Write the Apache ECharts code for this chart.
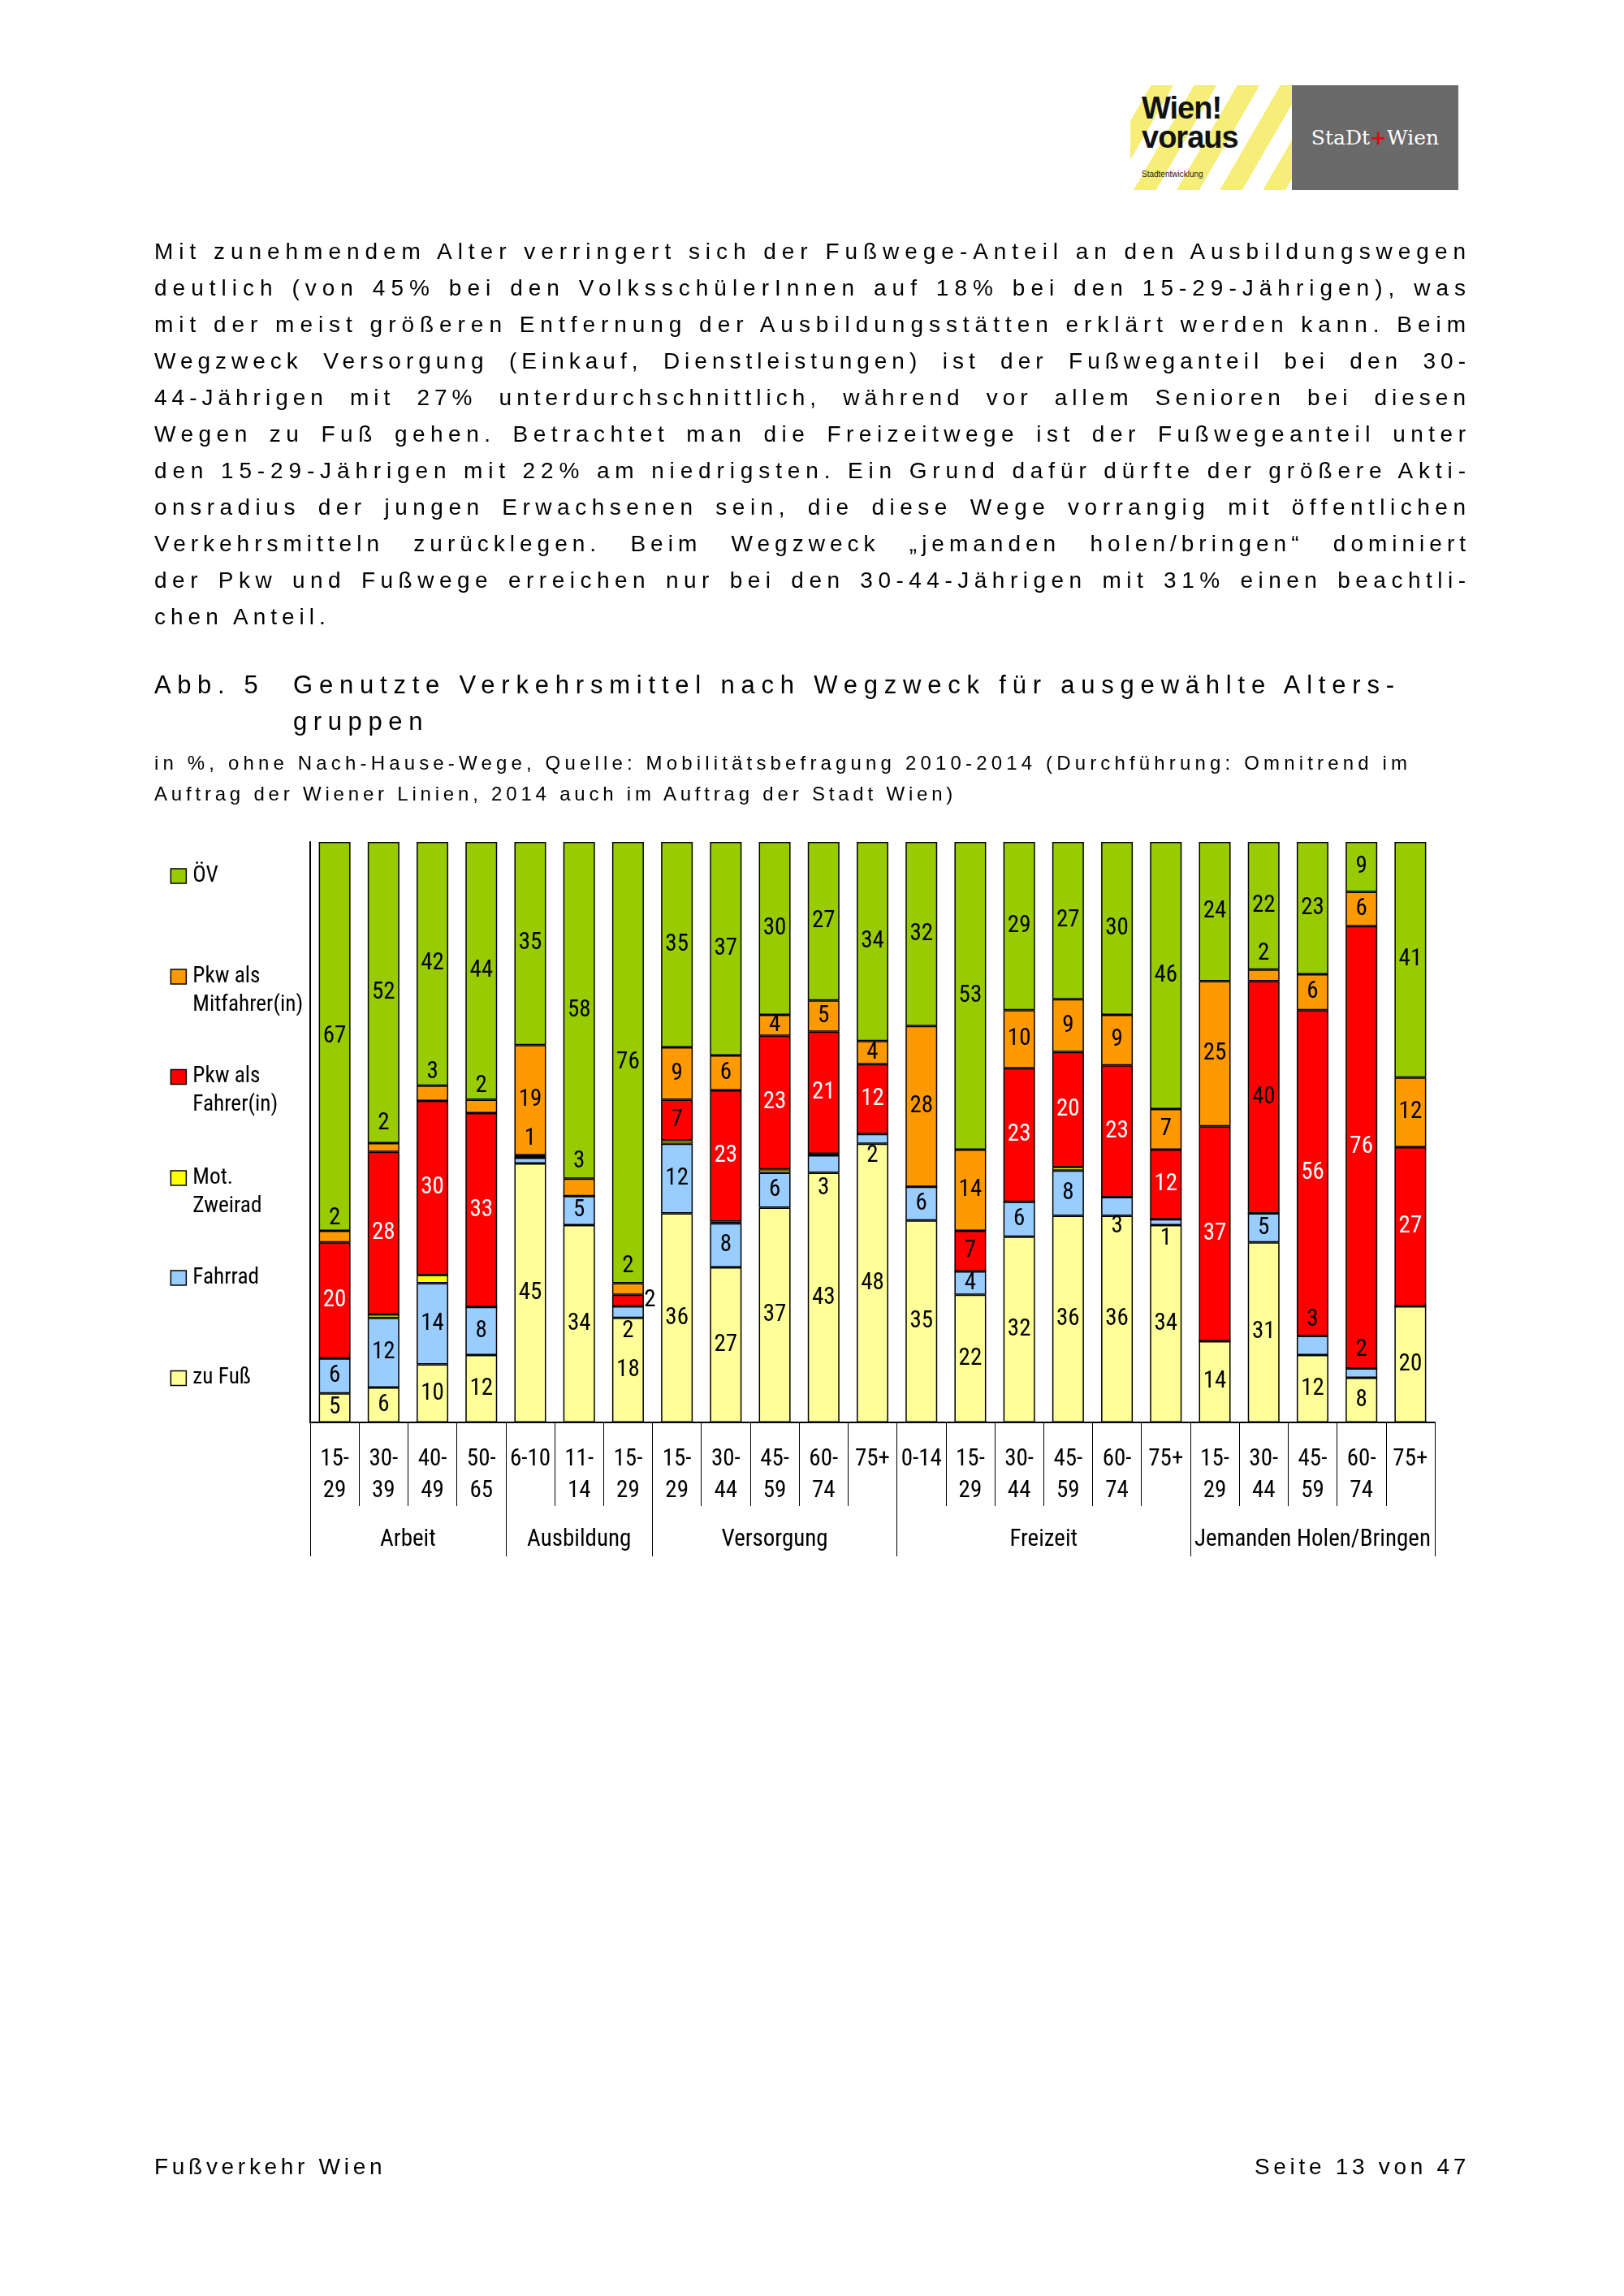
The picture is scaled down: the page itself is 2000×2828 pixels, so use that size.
<!DOCTYPE html>
<html>
<head>
<meta charset="utf-8">
<script src="https://cdn.jsdelivr.net/npm/echarts@6/dist/echarts.min.js"></script>
<style>
html,body{margin:0;padding:0;background:#fff;}
#page{position:relative;width:2000px;height:2828px;overflow:hidden;font-family:"Liberation Sans",Arial,sans-serif;color:#000;}
#chart{position:absolute;left:0;top:0;width:2000px;height:2828px;}
.blk{position:absolute;}
.row{display:block;white-space:nowrap;}
.row span{display:inline-block;white-space:nowrap;}
</style>
</head>
<body>
<div id="page">
  <div id="chart"></div>

  <!-- logo -->
  <div class="blk" style="left:1392px;top:105px;width:404px;height:129px;">
    <div style="position:absolute;left:0;top:0;width:199px;height:129px;background:repeating-linear-gradient(120deg,#ffffff 0px,#ffffff 22px,#f6ee78 22px,#f6ee78 46px);"></div>
    <div style="position:absolute;left:14px;top:10px;font:bold 38px/36px 'Liberation Sans',Arial,sans-serif;letter-spacing:-1px;color:#111;">Wien!<br>voraus</div>
    <div style="position:absolute;left:14px;top:104px;font:10px 'Liberation Sans',Arial,sans-serif;color:#222;">Stadtentwicklung</div>
    <div style="position:absolute;left:199px;top:0;width:205px;height:129px;background:#6a6a6a;color:#fff;font:25px/129px 'DejaVu Serif',serif;text-align:center;white-space:nowrap;">StaDt<span style="color:#e30613;font-weight:bold;">+</span>Wien</div>
  </div>

  <!-- body text (data-ls = tracking wanted on that line; the rest of the justification goes to word spaces) -->
  <div class="blk" style="left:190px;top:287px;font-size:28px;line-height:45px;">
    <div class="row"><span data-ls="7" data-w="1615">Mit zunehmendem Alter verringert sich der Fußwege-Anteil an den Ausbildungswegen</span></div>
    <div class="row"><span data-ls="7" data-w="1615">deutlich (von 45% bei den VolksschülerInnen auf 18% bei den 15-29-Jährigen), was</span></div>
    <div class="row"><span data-ls="7" data-w="1615">mit der meist größeren Entfernung der Ausbildungsstätten erklärt werden kann. Beim</span></div>
    <div class="row"><span data-ls="6" data-w="1615">Wegzweck Versorgung (Einkauf, Dienstleistungen) ist der Fußweganteil bei den 30-</span></div>
    <div class="row"><span data-ls="6" data-w="1615">44-Jährigen mit 27% unterdurchschnittlich, während vor allem Senioren bei diesen</span></div>
    <div class="row"><span data-ls="6.5" data-w="1615">Wegen zu Fuß gehen. Betrachtet man die Freizeitwege ist der Fußwegeanteil unter</span></div>
    <div class="row"><span data-ls="7" data-w="1615">den 15-29-Jährigen mit 22% am niedrigsten. Ein Grund dafür dürfte der größere Akti-</span></div>
    <div class="row"><span data-ls="6.5" data-w="1615">onsradius der jungen Erwachsenen sein, die diese Wege vorrangig mit öffentlichen</span></div>
    <div class="row"><span data-ls="6" data-w="1615">Verkehrsmitteln zurücklegen. Beim Wegzweck „jemanden holen/bringen“ dominiert</span></div>
    <div class="row"><span data-ls="6.5" data-w="1615">der Pkw und Fußwege erreichen nur bei den 30-44-Jährigen mit 31% einen beachtli-</span></div>
    <div class="row"><span data-ls="6">chen Anteil.</span></div>
  </div>

  <!-- figure title -->
  <div class="blk" style="left:190px;top:821px;font-size:31px;line-height:45px;">
    <div class="row"><span data-ls="7.6">Abb. 5</span></div>
  </div>
  <div class="blk" style="left:361px;top:821px;font-size:31px;line-height:45px;">
    <div class="row"><span data-ls="9" data-w="1356">Genutzte Verkehrsmittel nach Wegzweck für ausgewählte Alters-</span></div>
    <div class="row"><span data-ls="7.6">gruppen</span></div>
  </div>
  <div class="blk" style="left:190px;top:921px;font-size:24px;line-height:38px;">
    <div class="row"><span data-ls="5.5" data-w="1543">in %, ohne Nach-Hause-Wege, Quelle: Mobilitätsbefragung 2010-2014 (Durchführung: Omnitrend im</span></div>
    <div class="row"><span data-ls="4.8">Auftrag der Wiener Linien, 2014 auch im Auftrag der Stadt Wien)</span></div>
  </div>

  <!-- footer -->
  <div class="blk" style="left:190px;top:2649px;font-size:28px;line-height:40px;">
    <div class="row"><span data-ls="4.7">Fußverkehr Wien</span></div>
  </div>
  <div class="blk" style="right:190px;top:2649px;font-size:28px;line-height:40px;text-align:right;">
    <div class="row"><span data-ls="4.7">Seite 13 von 47</span></div>
  </div>
</div>

<script>
// ---------------- data ----------------
const ageLabels = ['15-\n29','30-\n39','40-\n49','50-\n65','6-10','11-\n14','15-\n29',
  '15-\n29','30-\n44','45-\n59','60-\n74','75+',
  '0-14','15-\n29','30-\n44','45-\n59','60-\n74','75+',
  '15-\n29','30-\n44','45-\n59','60-\n74','75+'];
const groupNames = ['Arbeit','Ausbildung','Versorgung','Freizeit','Jemanden Holen/Bringen'];
const groupSizes = [4, 3, 5, 6, 5];

const zuFuss       = [5, 6, 10, 11.6, 44.6, 34, 18, 36, 26.7, 37, 43, 48, 34.8, 22, 32, 35.6, 35.6, 34, 14, 31, 11.6, 7.7, 20];
const fahrrad      = [6, 12, 14, 8.3, 1, 5, 2, 12, 7.6, 6, 3, 1.7, 5.8, 4, 6, 7.8, 3.2, 1, 0, 5, 3.3, 1.6, 0];
const motZweirad   = [0, 0.6, 1.4, 0, 0, 0, 0, 0.6, 0.3, 0.6, 0.3, 0, 0, 0, 0, 0.6, 0, 0, 0, 0, 0, 0, 0];
const pkwFahrer    = [20, 28, 30, 33.4, 0.4, 0, 2, 7, 22.6, 23, 21, 12, 0, 7, 23, 19.8, 22.7, 12, 37, 40, 56.1, 76.2, 27.4];
const pkwMitfahrer = [2, 1.5, 2.6, 2.3, 19, 3, 2, 9, 6, 3.6, 5.4, 4, 27.7, 14, 10, 9.1, 8.7, 7, 25, 2, 6.2, 5.9, 12];
const oev          = [67, 51.9, 42, 44.4, 35, 58, 76, 35.4, 36.8, 29.8, 27.3, 34.3, 31.7, 53, 29, 27.1, 29.8, 46, 24, 22, 22.8, 8.6, 40.6];

const seriesNames = ['zu Fuß', 'Fahrrad', 'Mot.\nZweirad', 'Pkw als\nFahrer(in)', 'Pkw als\nMitfahrer(in)', 'ÖV'];
const seriesData  = [zuFuss, fahrrad, motZweirad, pkwFahrer, pkwMitfahrer, oev];

// ---------------- styling config ----------------
const seriesColors = ['#FFFF99', '#99CCFF', '#FFFF00', '#FF0000', '#FF9900', '#99CC00'];
// label nudges for small segments: "seriesIndex-dataIndex" -> [dx, dy]
const labelNudges = {
  '4-0': [0, -22], '4-1': [0, -30], '4-2': [0, -26], '4-3': [0, -25],
  '1-4': [0, -27], '4-5': [0, -32],
  '4-6': [0, -28], '3-6': [27, 0], '1-6': [0, 24],
  '1-10': [0, 30], '1-11': [0, 21], '1-16': [0, 25], '1-17': [0, 20],
  '4-19': [0, -27], '1-20': [0, -32], '1-21': [0, -28]
};
const darkFahrerLabels = [6, 7, 13, 19];

// ---------------- text justification ----------------
document.querySelectorAll('span[data-ls]').forEach(function (el) {
  const want = parseFloat(el.dataset.ls);
  if (!el.dataset.w) { el.style.letterSpacing = want + 'px'; return; }
  const t = el.textContent;
  const n = t.length, s = (t.match(/ /g) || []).length;
  const target = parseFloat(el.dataset.w);
  el.style.letterSpacing = '0px'; el.style.wordSpacing = '0px';
  const w0 = el.getBoundingClientRect().width;
  const ls = Math.min(want, (target - w0) / (n - 1));
  el.style.letterSpacing = ls + 'px';
  if (s) el.style.wordSpacing = ((target - w0 - ls * (n - 1)) / s) + 'px';
});

// ---------------- fonts ----------------
function hasFont(name) {
  const c = document.createElement('canvas').getContext('2d');
  const t = '0123456789 MWmwilAbc';
  c.font = '40px monospace'; const a = c.measureText(t).width;
  c.font = '40px "' + name + '", monospace'; const b = c.measureText(t).width;
  return Math.abs(a - b) > 0.5;
}
const narrowCandidates = [
  ['Liberation Sans Narrow', 30], ['Arial Narrow', 30], ['Roboto Condensed', 29],
  ['Noto Sans Condensed', 28], ['DejaVu Sans Condensed', 26]
];
let NARROW = '"Liberation Sans", Arial, sans-serif';
let FS = 25;
for (let k = 0; k < narrowCandidates.length; k++) {
  if (hasFont(narrowCandidates[k][0])) { NARROW = '"' + narrowCandidates[k][0] + '", sans-serif'; FS = narrowCandidates[k][1]; break; }
}
const LEGEND_FS = Math.round(FS * 0.94 * 10) / 10;

// ---------------- axes ----------------
const groupStarts = [];
const groupAxisData = ageLabels.map(function () { return ''; });
let start = 0;
groupSizes.forEach(function (size, g) {
  groupStarts.push(start);
  if (size % 2 === 1) {
    groupAxisData[start + (size - 1) / 2] = groupNames[g];
  } else {
    groupAxisData[start + size / 2 - 1] = { value: groupNames[g], textStyle: { padding: [0, 0, 0, 60.2] } };
  }
  start += size;
});

// ---------------- series ----------------
const series = seriesData.map(function (arr, si) {
  return {
    type: 'bar',
    name: seriesNames[si],
    stack: 'total',
    barWidth: 39,
    itemStyle: { color: seriesColors[si], borderColor: '#000', borderWidth: 1.5 },
    label: {
      show: si !== 2,
      position: 'inside',
      fontSize: FS,
      fontFamily: NARROW,
      color: si === 3 ? '#fff' : '#000',
      formatter: function (p) { const r = Math.round(p.value); return r >= 1 ? String(r) : ''; }
    },
    emphasis: { disabled: true },
    data: arr.map(function (v, i) {
      const item = { value: v };
      const lab = {};
      const nudge = labelNudges[si + '-' + i];
      if (nudge) lab.offset = nudge;
      if (si === 3 && darkFahrerLabels.indexOf(i) >= 0) lab.color = '#000';
      if (Object.keys(lab).length) item.label = lab;
      return item;
    })
  };
});

// legends: one component per entry, ÖV first; two-line names get an empty first line
// so that the first text line sits level with the icon
const legendOrder = [5, 4, 3, 2, 1, 0];
const legendIconCenters = [1079, 1203, 1326.5, 1451, 1574, 1697.5];
const LH = 35;
const legends = legendOrder.map(function (si, k) {
  const twoLine = seriesNames[si].indexOf('\n') >= 0;
  const boxH = twoLine ? 3 * LH : LH;
  return {
    data: [seriesNames[si]],
    orient: 'vertical',
    left: 209.6,
    top: legendIconCenters[k] - boxH / 2,
    padding: 0,
    itemWidth: 19,
    itemHeight: 18,
    icon: 'rect',
    selectedMode: false,
    formatter: function (name) { return twoLine ? '\n' + name : name; },
    itemStyle: { borderColor: '#000', borderWidth: 1.5 },
    textStyle: {
      fontSize: LEGEND_FS, lineHeight: LH, fontFamily: NARROW, color: '#000',
      padding: [0, 0, 0, 3],
      backgroundColor: 'rgba(255,255,255,0)'
    }
  };
});

const option = {
  animation: false,
  backgroundColor: 'transparent',
  legend: legends,
  grid: { left: 382, top: 1037, width: 1385, height: 715 },
  xAxis: [
    {
      type: 'category',
      data: ageLabels,
      position: 'bottom',
      axisLine: { show: true, lineStyle: { color: '#000', width: 2 } },
      axisTick: { show: true, interval: 0, length: 103, lineStyle: { color: '#000', width: 1 } },
      axisLabel: { interval: 0, margin: 26, fontSize: FS, lineHeight: 39, color: '#000', fontFamily: NARROW }
    },
    {
      type: 'category',
      data: groupAxisData,
      position: 'bottom',
      axisLine: { show: false },
      axisTick: {
        show: true, length: 165, lineStyle: { color: '#000', width: 1 },
        interval: function (i) { return groupStarts.indexOf(i) >= 0; }
      },
      axisLabel: { interval: 0, margin: 125, fontSize: FS, lineHeight: 39, color: '#000', fontFamily: NARROW }
    }
  ],
  yAxis: {
    type: 'value', min: 0, max: 100,
    axisLine: { show: true, lineStyle: { color: '#000', width: 2 } },
    axisTick: { show: false },
    axisLabel: { show: false },
    splitLine: { show: false }
  },
  series: series
};

const chart = echarts.init(document.getElementById('chart'), null, { renderer: 'canvas' });
chart.setOption(option);
</script>
</body>
</html>
